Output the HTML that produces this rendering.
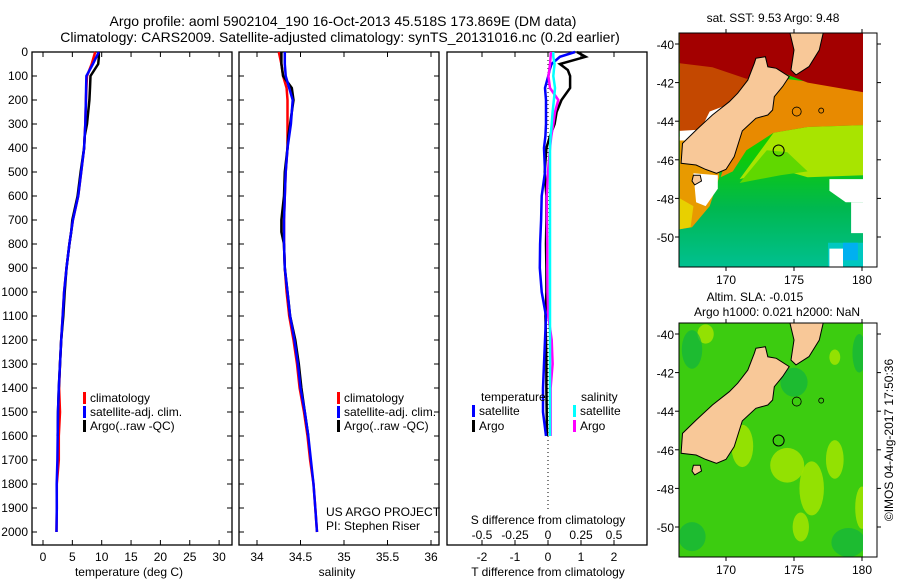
<!DOCTYPE html>
<html><head><meta charset="utf-8"><style>
body{margin:0;background:#fff;}
svg{display:block;font-family:"Liberation Sans",sans-serif;}
text{fill:#000;}
</style></head><body>
<svg id="fig" width="900" height="580" viewBox="0 0 900 580" xmlns="http://www.w3.org/2000/svg">
<rect width="900" height="580" fill="#fff"/>
<text x="343" y="26" font-size="14" text-anchor="middle">Argo profile: aoml 5902104_190 16-Oct-2013 45.518S 173.869E (DM data)</text>
<text x="340" y="42" font-size="14" text-anchor="middle">Climatology: CARS2009. Satellite-adjusted climatology: synTS_20131016.nc (0.2d earlier)</text>
<g id="p1"></g>
<g id="p2"></g>
<g id="p3"></g>
<g id="m1"></g>
<g id="m2"></g>
<text x="773" y="22" font-size="12" text-anchor="middle">sat. SST: 9.53 Argo: 9.48</text>
<text x="755" y="301" font-size="12" text-anchor="middle">Altim. SLA: -0.015</text>
<text x="777" y="316" font-size="12" text-anchor="middle">Argo h1000: 0.021 h2000: NaN</text>
<text x="0" y="0" font-size="12" text-anchor="middle" transform="translate(893,440) rotate(-90)">©IMOS 04-Aug-2017 17:50:36</text>
</svg>
<script>
// ---- data ----
const depths=[0,50,100,150,200,300,400,500,600,700,800,900,1000,1100,1200,1300,1400,1500,1600,1700,1800,1900,2000];
const tempClim=[8.9,8.3,7.5,7.4,7.3,7.2,7.0,6.5,6.0,5.1,4.5,4.0,3.6,3.35,3.1,2.9,2.75,2.9,2.7,2.7,2.35,2.35,2.3];
const tempSat=[9.5,8.5,7.4,7.35,7.3,7.2,7.0,6.5,6.0,5.1,4.5,4.0,3.6,3.35,3.1,2.9,2.7,2.55,2.5,2.45,2.33,2.35,2.3];
const argoDepths=[0,25,50,100,150,200,300,350,400,500,600,700,750,800,900,1000,1100,1200,1300,1400,1500,1600];
const tempArgo=[9.5,9.5,9.4,8.1,8.0,7.9,7.5,7.1,7.0,6.4,5.9,5.0,4.8,4.5,4.0,3.7,3.45,3.1,2.9,2.7,2.55,2.5];
const salClim=[34.25,34.28,34.30,34.34,34.35,34.35,34.35,34.33,34.32,34.31,34.31,34.32,34.34,34.37,34.42,34.46,34.49,34.54,34.58,34.61,34.65,34.67,34.69];
const salSat=[34.32,34.32,34.33,34.37,34.41,34.39,34.35,34.33,34.32,34.31,34.31,34.32,34.35,34.38,34.43,34.47,34.5,34.55,34.59,34.62,34.65,34.67,34.69];
const salArgo=[34.28,34.28,34.28,34.30,34.40,34.42,34.38,34.36,34.35,34.32,34.31,34.28,34.28,34.31,34.32,34.35,34.38,34.44,34.48,34.51,34.55,34.59];
const diffDepths=[0,20,50,75,100,150,200,250,300,350,400,500,600,700,800,900,1000,1100,1200,1300,1400,1500,1600];
const dTsat=[0.82,0.36,0.11,0.05,0.01,-0.09,-0.06,-0.06,-0.06,-0.08,-0.12,-0.09,-0.19,-0.21,-0.24,-0.25,-0.19,-0.06,-0.09,-0.12,-0.15,-0.15,-0.06];
const dTargo=[0.88,1.14,0.36,0.6,0.67,0.67,0.41,0.26,0.2,0.06,-0.05,-0.1,-0.05,-0.05,-0.06,-0.05,-0.05,-0.08,-0.06,-0.05,-0.05,-0.04,-0.03];
const dSsat=[0.04,0.04,0.05,0.045,0.04,0.053,0.045,0.035,0.028,0.02,0.015,0.015,0.015,0.015,0.015,0.015,0.015,0.015,0.015,0.015,0.015,0.015,0.015];
const dSargo=[0.023,0.02,0.015,0.01,0.003,0.015,0.078,0.053,0.04,0.025,0.015,0.0,-0.01,-0.008,-0.005,-0.005,-0.004,0.002,0.028,0.035,0.02,0.02,0.02];
const depthTicks=[0,100,200,300,400,500,600,700,800,900,1000,1100,1200,1300,1400,1500,1600,1700,1800,1900,2000];
const tempTicks=[0,5,10,15,20,25,30];
const salTicks=[34,34.5,35,35.5,36];
const dTTicks=[-2,-1,0,1,2];
const dSTicks=[-0.5,-0.25,0,0.25,0.5];
const dSTickLabels=["-0.5","-0.25","0","0.25","0.5"];
const lonTicks=[170,175,180];
const latTicks=[-40,-42,-44,-46,-48,-50];

const NS="http://www.w3.org/2000/svg";
function mk(parent,tag,attrs,txt){const e=document.createElementNS(NS,tag);for(const k in attrs)e.setAttribute(k,attrs[k]);if(txt!==undefined)e.textContent=txt;parent.appendChild(e);return e;}
const Y=d=>52+d*0.24;
const TOP=52,BOT=545;
const xT=v=>43+v*5.87;
const xS=v=>257+(v-34)*87;
const xDT=v=>548+v*33;
const xDS=v=>548+v*132;

function frame(g,x0,x1,name){
  const r=mk(g,'rect',{x:x0,y:TOP,width:x1-x0,height:BOT-TOP,fill:'none',stroke:'#000','stroke-width':1.3});
  
  
}
function line(g,xs,ys,fx,color,name,w){
  const pts=xs.map((v,i)=>fx(v).toFixed(1)+','+Y(ys[i]).toFixed(1)).join(' ');
  const p=mk(g,'polyline',{points:pts,fill:'none',stroke:color,'stroke-width':w||2.5,'stroke-linejoin':'miter'});
  
  
}
function xticks(g,ticks,fx,labels,ly){
  ticks.forEach((t,i)=>{
    const x=fx(t);
    mk(g,'line',{x1:x,y1:TOP,x2:x,y2:TOP+5,stroke:'#000'});
    mk(g,'line',{x1:x,y1:BOT,x2:x,y2:BOT-5,stroke:'#000'});
    const tx=mk(g,'text',{x:x,y:ly,'font-size':12,'text-anchor':'middle'},labels?labels[i]:String(t));
    
    
  });
}
function yticks(g,x0,x1){
  depthTicks.forEach(d=>{
    mk(g,'line',{x1:x0,y1:Y(d),x2:x0+5,y2:Y(d),stroke:'#000'});
    mk(g,'line',{x1:x1,y1:Y(d),x2:x1-5,y2:Y(d),stroke:'#000'});
  });
}
function legend(g,x,y,color,label){
  mk(g,'rect',{x:x,y:y-10,width:3,height:12,fill:color});
  const t=mk(g,'text',{x:x+7,y:y,'font-size':12},label);
  
  
}

// Panel 1
const p1=document.getElementById('p1');
frame(p1,32,232,'temperature-axes');
yticks(p1,32,232);
depthTicks.forEach(d=>{
  const t=mk(p1,'text',{x:28,y:Y(d)+4,'font-size':12,'text-anchor':'end'},String(d));
  
  
});
xticks(p1,tempTicks,xT,null,561);
mk(p1,'text',{x:129,y:576,'font-size':12,'text-anchor':'middle'},'temperature (deg C)');
line(p1,tempClim,depths,xT,'#f00','temp-climatology-line');
line(p1,tempArgo,argoDepths,xT,'#000','temp-argo-line');
line(p1,tempSat,depths,xT,'#00f','temp-satellite-line');
legend(p1,83,402,'#f00','climatology');
legend(p1,83,416,'#00f','satellite-adj. clim.');
legend(p1,83,430,'#000','Argo(..raw -QC)');

// Panel 2
const p2=document.getElementById('p2');
frame(p2,239,439,'salinity-axes');
yticks(p2,239,439);
xticks(p2,salTicks,xS,null,561);
mk(p2,'text',{x:337,y:576,'font-size':12,'text-anchor':'middle'},'salinity');
line(p2,salClim,depths,xS,'#f00','sal-climatology-line');
line(p2,salArgo,argoDepths,xS,'#000','sal-argo-line');
line(p2,salSat,depths,xS,'#00f','sal-satellite-line');
legend(p2,337,402,'#f00','climatology');
legend(p2,337,416,'#00f','satellite-adj. clim.');
legend(p2,337,430,'#000','Argo(..raw -QC)');
mk(p2,'text',{x:326,y:516,'font-size':12},'US ARGO PROJECT');
mk(p2,'text',{x:326,y:530,'font-size':12},'PI: Stephen Riser');

// Panel 3
const p3=document.getElementById('p3');
frame(p3,447,647,'difference-axes');
xticks(p3,dTTicks,xDT,null,561);
dSTicks.forEach((t,i)=>{
  const s=mk(p3,'text',{x:xDS(t),y:539,'font-size':12,'text-anchor':'middle'},dSTickLabels[i]);
  
  
});
mk(p3,'line',{x1:xDT(0),y1:TOP,x2:xDT(0),y2:510,stroke:'#000','stroke-dasharray':'1,3'});
mk(p3,'text',{x:548,y:524,'font-size':12,'text-anchor':'middle'},'S difference from climatology');
mk(p3,'text',{x:548,y:576,'font-size':12,'text-anchor':'middle'},'T difference from climatology');
line(p3,dTargo,diffDepths,xDT,'#000','dT-argo-line');
line(p3,dTsat,diffDepths,xDT,'#00f','dT-satellite-line');
line(p3,dSargo,diffDepths,xDS,'#f0f','dS-argo-line');
line(p3,dSsat,diffDepths,xDS,'#0ff','dS-satellite-line');
mk(p3,'text',{x:481,y:401,'font-size':12},'temperature');
legend(p3,472,415,'#00f','satellite');
legend(p3,472,430,'#000','Argo');
mk(p3,'text',{x:581,y:401,'font-size':12},'salinity');
legend(p3,573,415,'#0ff','satellite');
legend(p3,573,430,'#f0f','Argo');

// Maps
const south=[[172.2,-40.74],[172.9,-40.66],[173.07,-41.18],[173.7,-41.26],[174.65,-41.69],[174.17,-42.2],[173.55,-42.73],[173.43,-43.42],[173.07,-43.68],[172.2,-43.85],[171.2,-44.5],[170.6,-45.84],[170.0,-46.5],[169.3,-46.7],[168.5,-46.5],[167.8,-46.27],[166.7,-46.18],[166.8,-45.15],[167.8,-44.46],[169.0,-43.68],[170.24,-42.99],[170.86,-42.55],[171.6,-41.87],[172.08,-41.0]];
const north=[[174.65,-39.27],[175.0,-40.31],[174.78,-41.35],[175.15,-41.6],[176.1,-41.17],[176.86,-40.31],[177.2,-39.27]];
const stewart=[[167.6,-46.8],[168.1,-46.8],[168.2,-47.1],[167.7,-47.3],[167.5,-47.1]];
function drawMap(id,y0,kind){
  const g=document.getElementById(id);
  const X=lon=>726+(lon-170)*13.6;
  const LY=lat=>y0+11+(-40-lat)*19.3;
  const top=y0, bot=y0+234, left=679, right=877, dr=863;
  const clip='clip-'+id;
  const cp=mk(mk(g,'defs',{}),'clipPath',{id:clip});
  mk(cp,'rect',{x:left,y:top,width:right-left,height:bot-top});
  const gg=mk(g,'g',{'clip-path':'url(#'+clip+')'});
  const poly=(pts,fill,stroke,name)=>{const p=mk(gg,'polygon',{points:pts.map(p=>X(p[0]).toFixed(1)+','+LY(p[1]).toFixed(1)).join(' '),fill:fill,stroke:stroke||'none','stroke-width':1});return p;};
  if(kind==='sst'){
    const gr=mk(g.querySelector('defs'),'linearGradient',{id:'gsst',x1:0,y1:0,x2:0,y2:1});
    mk(gr,'stop',{offset:'0.5','stop-color':'#10cc00'});
    mk(gr,'stop',{offset:'0.75','stop-color':'#00b850'});
    mk(gr,'stop',{offset:'1','stop-color':'#00c090'});
    mk(gg,'rect',{x:left,y:top,width:dr-left,height:bot-top,fill:'url(#gsst)'});
    poly([[173.5,-44.6],[176,-44.3],[180.1,-44.2],[180.1,-46.8],[176,-46.9],[174,-46.5],[171,-47]],'#a8e400');
    poly([[173,-45.5],[174.5,-45.6],[176,-46.6],[174,-46.8],[171,-47.2]],'#60d800');
    poly([[172,-41.6],[180.1,-42.3],[180.1,-44.2],[176,-44.3],[173.5,-44.6],[171.5,-45.5],[170.5,-46.6],[169.6,-46.9]],'#e88a00');
    poly([[166.6,-44.8],[168,-44.6],[168,-46.3],[169.5,-46.5],[169.5,-46.9],[168.8,-48.4],[167.5,-49.5],[166.6,-49.6]],'#e89a00');
    poly([[166.6,-48],[167.6,-48.4],[167.4,-49.5],[166.6,-49.6]],'#e8d000');
    poly([[166.6,-39.4],[173.5,-39.4],[173,-42],[170.5,-43.5],[168.5,-44.6],[166.6,-44.6]],'#c44800');
    poly([[166.6,-39.4],[180.1,-39.4],[180.1,-42.5],[176,-42],[174.2,-41.5],[171.5,-41.8],[169,-41.2],[166.6,-41]],'#a30000');
    poly([[177.5,-50.3],[180.1,-50.3],[180.1,-51.7],[177.5,-51.7]],'#00c8c0');
    poly([[178.6,-50.3],[179.7,-50.3],[179.7,-51.2],[178.6,-51.2]],'#00b0f0');
    poly([[168.8,-43.5],[170.3,-43.1],[169.8,-43.9],[168.3,-44.2]],'#fff');
    poly([[166.6,-44.5],[167.8,-44.45],[167.2,-45.0],[166.6,-45.0]],'#fff');
    poly([[167.6,-46.7],[169.4,-46.8],[169.4,-47.5],[168.5,-48.4],[167.8,-48.2]],'#fff');
    poly([[177.6,-47.0],[180.1,-47.0],[180.1,-48.2],[178.8,-48.2],[177.6,-47.6]],'#fff');
    poly([[179.2,-48.2],[180.1,-48.2],[180.1,-49.8],[179.2,-49.8]],'#fff');
    poly([[177.6,-50.6],[178.6,-50.6],[178.6,-51.7],[177.6,-51.7]],'#fff');
  } else {
    mk(gg,'rect',{x:left,y:top,width:dr-left,height:bot-top,fill:'#3ccc10'});
    [[171.2,-45.8,1.6,2.2],[174.5,-46.8,2.5,1.8],[176.3,-48,1.8,2.8],[178,-46.5,1.3,2],[180,-49,1,2.2],[168.5,-40,1.2,1],[178,-41.2,0.8,0.8],[175.5,-50,1.2,1.5]].forEach(b=>{
      const e=mk(gg,'ellipse',{cx:X(b[0]),cy:LY(b[1]),rx:b[2]*13.6/2,ry:b[3]*19.3/2,fill:'#a2e400',opacity:0.85});
      
    });
    [[167.5,-40.8,1.5,2],[179.8,-41,1,2],[179,-50.8,2.5,1.5],[167.5,-50.5,2,1.5],[175,-42.5,2,1.5]].forEach(b=>{
      mk(gg,'ellipse',{cx:X(b[0]),cy:LY(b[1]),rx:b[2]*13.6/2,ry:b[3]*19.3/2,fill:'#10b440',opacity:0.7});
    });
  }
  poly(south,'#f8c898','#000','south-island');
  poly(north,'#f8c898','#000','north-island');
  poly(stewart,'#f8c898','#000','stewart-island');
  const c=mk(gg,'circle',{cx:X(173.869),cy:LY(-45.518),r:5.5,fill:'none',stroke:'#000'});
  
  mk(gg,'circle',{cx:X(175.2),cy:LY(-43.5),r:4.5,fill:'none',stroke:'#000','stroke-width':0.8});
  mk(gg,'circle',{cx:X(177.0),cy:LY(-43.45),r:2.5,fill:'none',stroke:'#000','stroke-width':0.8});
  mk(g,'rect',{x:dr,y:top,width:right-dr,height:bot-top,fill:'#fff'});
  mk(g,'rect',{x:left,y:top,width:right-left,height:bot-top,fill:'none',stroke:'#000'});
  lonTicks.forEach(l=>{
    mk(g,'line',{x1:X(l),y1:top,x2:X(l),y2:top-4,stroke:'#000'});
    mk(g,'line',{x1:X(l),y1:bot,x2:X(l),y2:bot+4,stroke:'#000'});
    const t=mk(g,'text',{x:X(l),y:bot+17,'font-size':12,'text-anchor':'middle'},String(l));
    
    
  });
  latTicks.forEach(l=>{
    mk(g,'line',{x1:left,y1:LY(l),x2:left-4,y2:LY(l),stroke:'#000'});
    mk(g,'line',{x1:right,y1:LY(l),x2:right+4,y2:LY(l),stroke:'#000'});
    const t=mk(g,'text',{x:674,y:LY(l)+5,'font-size':12,'text-anchor':'end'},String(l));
    
    
  });
}
drawMap('m1',33,'sst');
drawMap('m2',323,'sla');
</script>
</body></html>
